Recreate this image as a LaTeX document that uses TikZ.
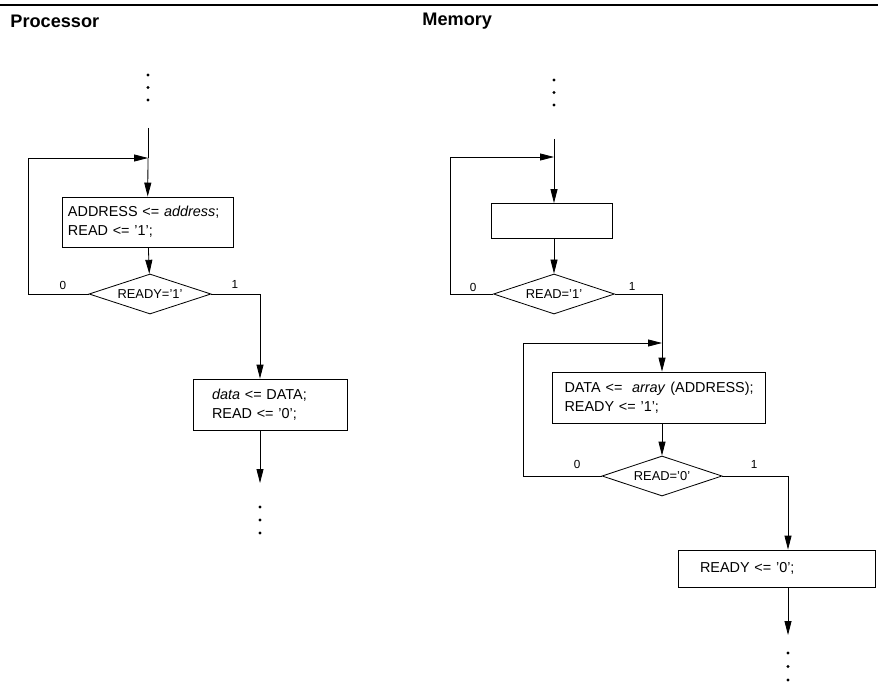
\documentclass[tikz,border=0pt]{standalone}
\usepackage{fontspec}
\setmainfont{Liberation Sans}
\usetikzlibrary{shapes.geometric,arrows.meta}

\begin{document}
\begin{tikzpicture}[x=0.03cm,y=-0.03cm,line width=0.7pt,
  flow/.style={-{Triangle[length=0.42cm,width=0.21cm]}},
  stmt/.style={draw, rectangle, align=left, inner ysep=0pt, font=\fontsize{12.3}{16}\selectfont},
  test/.style={draw, diamond, aspect=3, inner sep=0pt, minimum height=1.2cm, font=\fontsize{11}{13}\selectfont},
  branch/.style={inner sep=0pt, font=\fontsize{10}{12}\selectfont},
  title/.style={anchor=west, inner sep=0pt, font=\fontsize{15.5}{18}\selectfont\bfseries},
  dot/.style={circle, fill, inner sep=0pt, minimum size=0.1cm}]
\useasboundingbox (0,0) rectangle (878,682);
\draw[line width=1.6pt] (0,5) -- (878,5);
\node[title] (tproc) at (10,21) {Processor};
\node[title] (tmem) at (422,21) {Memory};
% processor
\foreach \y [count=\i] in {75,87.5,100} \node[dot] (ptopdot\i) at (148,\y) {};
\coordinate (ptop) at (148,128);
\coordinate (pjoin) at (148,158);
\coordinate (ploop) at (28,158);
\node[stmt, text width=4.77cm, inner xsep=0.18cm, minimum height=1.5cm] (paddr) at (147.5,222) {\mbox{ADDRESS <=\ \textit{address};}\\READ <= '1';};
\node[test, minimum width=3.66cm] (pready) at (150,294) {READY='1'};
\node[branch] (pno) at (63,285) {0};
\node[branch] (pyes) at (235,284) {1};
\coordinate (pend) at (260,483);
\node[stmt, text width=3.48cm, inner xsep=0.57cm, minimum height=1.53cm] (pdata) at (270,404.5) {\textit{data} <=\ DATA;\\READ <= '0';};
\foreach \y [count=\i] in {507,520,533} \node[dot] (pbotdot\i) at (260,\y) {};
\draw (ptop) -- (pjoin);
\draw[flow] (pjoin) -- (paddr);
\draw[flow] (paddr) -- (pready);
\draw[flow] (pready.west) -| (ploop) -- (pjoin);
\draw[flow] (pready.east) -| (pdata.north -| pend);
\draw[flow] (pdata.south -| pend) -- (pend);
% memory
\foreach \y [count=\i] in {80,92.5,105} \node[dot] (mtopdot\i) at (554,\y) {};
\coordinate (mtop) at (554,139);
\coordinate (mjoin) at (554,157);
\coordinate (mloop) at (450,157);
\node[stmt, minimum width=3.63cm, minimum height=1.05cm] (mwait) at (552,221) {};
\node[test, minimum width=3.63cm] (mread1) at (554,294) {READ='1'};
\node[branch] (mno) at (473,287) {0};
\node[branch] (myes) at (632,286) {1};
\coordinate (mjoin2) at (662,343);
\coordinate (mloop2) at (523,343);
\node[stmt, text width=5.67cm, inner xsep=0.36cm, minimum height=1.53cm] (marray) at (659,397.5) {\mbox{DATA <=\ \ \textit{array} (ADDRESS);}\\READY <= '1';};
\node[test, minimum width=3.6cm] (mread0) at (662,476) {READ='0'};
\node[branch] (nno) at (577,464) {0};
\node[branch] (nyes) at (754,464) {1};
\coordinate (mend) at (788,635);
\node[stmt, text width=4.59cm, inner xsep=0.66cm, minimum height=1.11cm] (mready) at (776.5,568.5) {READY <= '0';};
\foreach \y [count=\i] in {653,666.5,680} \node[dot] (mbotdot\i) at (788,\y) {};
\draw (mtop) -- (mjoin);
\draw[flow] (mjoin) -- (mwait.north -| mjoin);
\draw[flow] (mwait.south -| mjoin) -- (mread1);
\draw[flow] (mread1.west) -| (mloop) -- (mjoin);
\draw (mread1.east) -| (mjoin2);
\draw[flow] (mjoin2) -- (marray.north -| mjoin2);
\draw[flow] (marray.south -| mjoin2) -- (mread0);
\draw[flow] (mread0.west) -| (mloop2) -- (mjoin2);
\draw[flow] (mread0.east) -| (mready.north -| mend);
\draw[flow] (mready.south -| mend) -- (mend);
\end{tikzpicture}
\end{document}
